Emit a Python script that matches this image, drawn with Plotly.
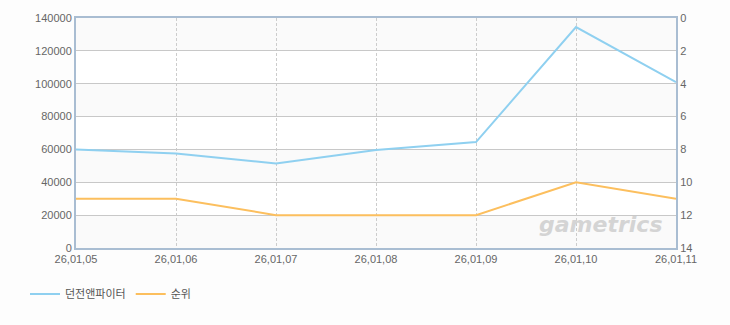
import plotly.graph_objects as go

dates = ["26,01,05", "26,01,06", "26,01,07", "26,01,08", "26,01,09", "26,01,10", "26,01,11"]
users = [60000, 57500, 51500, 59700, 64500, 134500, 101000]
ranks = [11, 11, 12, 12, 12, 10, 11]
left_ticks = [0, 20000, 40000, 60000, 80000, 100000, 120000, 140000]
right_ticks = [0, 2, 4, 6, 8, 10, 12, 14]

fig = go.Figure()

# alternating bands
shapes = []
for i in range(len(left_ticks) - 1):
    if i % 2 == 0:
        shapes.append(dict(type="rect", xref="paper", yref="y", x0=0, x1=1,
                           y0=left_ticks[i], y1=left_ticks[i + 1],
                           fillcolor="#fafafa", line_width=0, layer="below"))

fig.add_trace(go.Scatter(x=list(range(len(dates))), y=users, name="던전앤파이터",
                         mode="lines", line=dict(color="#8fd0f0", width=2), yaxis="y"))
fig.add_trace(go.Scatter(x=list(range(len(dates))), y=ranks, name="순위",
                         mode="lines", line=dict(color="#fcbf5e", width=2), yaxis="y2"))

fig.update_layout(
    width=730, height=325,
    margin=dict(l=76, r=54, t=16, b=77),
    paper_bgcolor="#fdfdfd", plot_bgcolor="#ffffff",
    font=dict(family="Liberation Sans, Arial, sans-serif", size=11, color="#666666"),
    shapes=shapes,
    xaxis=dict(range=[0, 6], tickvals=list(range(len(dates))), ticktext=dates,
               showgrid=True, gridcolor="#cccccc", griddash="3px,2px", gridwidth=1,
               showline=True, linecolor="#a9bdd2", linewidth=2, mirror=True,
               ticks="", zeroline=False, tickfont=dict(size=11, color="#666666")),
    yaxis=dict(range=[0, 140000], tickvals=left_ticks, ticktext=[str(v) for v in left_ticks],
               showgrid=True, gridcolor="#c8c8c8", gridwidth=1,
               showline=True, linecolor="#a9bdd2", linewidth=2,
               ticks="", zeroline=False, tickfont=dict(size=11, color="#666666")),
    yaxis2=dict(range=[14, 0], tickvals=right_ticks, overlaying="y", side="right",
                showgrid=False, showline=True, linecolor="#a9bdd2", linewidth=2,
                ticks="", zeroline=False, tickfont=dict(size=11, color="#666666")),
    legend=dict(orientation="h", x=-0.085, y=-0.2, xanchor="left", yanchor="middle",
                font=dict(size=11, color="#555555", family="Noto Sans CJK KR, sans-serif"),
                bgcolor="rgba(0,0,0,0)"),
    annotations=[dict(text="gametrics", xref="paper", yref="paper", x=0.98, y=0.04,
                      xanchor="right", yanchor="bottom", showarrow=False,
                      font=dict(size=22, color="#d4d4d4", family="DejaVu Sans",
                                style="italic", weight="bold"))],
)

fig.write_html("out.html")
